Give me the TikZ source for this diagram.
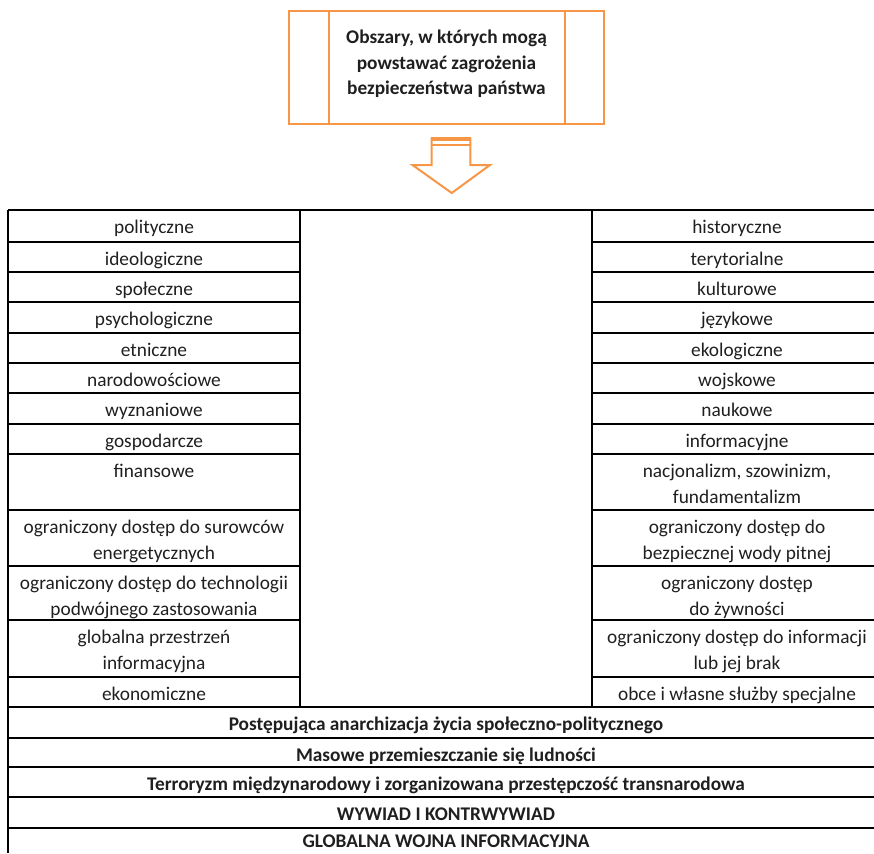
\documentclass[tikz,border=0pt]{standalone}
\usepackage{fontspec}
\setmainfont{Carlito}
\definecolor{org}{HTML}{F79646}
\definecolor{ink}{HTML}{1F1F1F}
\newcommand\cellfont{\fontsize{14.5pt}{19.5pt}\selectfont}
\newcommand\titlefont{\fontsize{14.5pt}{19.3pt}\selectfont\bfseries}
\begin{document}
\begin{tikzpicture}[x=0.75pt,y=-0.75pt,
  grid/.style={draw=black, line width=0.9pt},
  cell/.style={anchor=north, inner sep=0pt, align=center, text=ink, font=\cellfont, yshift=-1.1pt},
  bcell/.style={cell, font=\cellfont\bfseries},
  obox/.style={draw=org, line width=1.5pt}]
\useasboundingbox (0,0) rectangle (874,853);
% title box
\draw[obox] (289,11) rectangle (604,124);
\draw[obox] (329,11) -- (329,124);
\draw[obox] (565,11) -- (565,124);
\node[cell, font=\titlefont] (title) at (446.5,23.7)
  {\strut Obszary, w których mogą\\\strut powstawać zagrożenia\\\strut bezpieczeństwa państwa};
% block arrow
\fill[org] (431,137) rectangle (471,141.2);
\draw[org, line width=1.5pt] (431,144.5) -- (471,144.5);
\draw[org, line width=1.5pt, line join=miter] (431.7,137.5) -- (431.7,165) -- (412.5,165) -- (451.7,193) -- (490,165) -- (470.3,165) -- (470.3,137.5);
% table grid
\foreach \y in {210,707,738,767,797,828} \draw[grid] (8,\y) -- (874,\y);
\foreach \y in {242,272,302,333,363,393,424,454,510,566,620,677} {
  \draw[grid] (8,\y) -- (300,\y);
  \draw[grid] (592,\y) -- (874,\y);
}
\draw[grid] (8,210) -- (8,853);
\draw[grid] (300,210) -- (300,707);
\draw[grid] (592,210) -- (592,707);
% left column
\node[cell] (L1) at (154,213.8) {\strut polityczne};
\node[cell] (L2) at (154,245.8) {\strut ideologiczne};
\node[cell] (L3) at (154,275.8) {\strut społeczne};
\node[cell] (L4) at (154,305.8) {\strut psychologiczne};
\node[cell] (L5) at (154,336.8) {\strut etniczne};
\node[cell] (L6) at (154,366.8) {\strut narodowościowe};
\node[cell] (L7) at (154,396.8) {\strut wyznaniowe};
\node[cell] (L8) at (154,427.8) {\strut gospodarcze};
\node[cell] (L9) at (154,457.8) {\strut finansowe};
\node[cell] (L10) at (154,513.8) {\strut ograniczony dostęp do surowców\\\strut energetycznych};
\node[cell] (L11) at (154,569.8) {\strut ograniczony dostęp do technologii\\\strut podwójnego zastosowania};
\node[cell] (L12) at (154,623.8) {\strut globalna przestrzeń\\\strut informacyjna};
\node[cell] (L13) at (154,680.8) {\strut ekonomiczne};
% right column
\node[cell] (R1) at (737,213.8) {\strut historyczne};
\node[cell] (R2) at (737,245.8) {\strut terytorialne};
\node[cell] (R3) at (737,275.8) {\strut kulturowe};
\node[cell] (R4) at (737,305.8) {\strut językowe};
\node[cell] (R5) at (737,336.8) {\strut ekologiczne};
\node[cell] (R6) at (737,366.8) {\strut wojskowe};
\node[cell] (R7) at (737,396.8) {\strut naukowe};
\node[cell] (R8) at (737,427.8) {\strut informacyjne};
\node[cell] (R9) at (737,457.8) {\strut nacjonalizm, szowinizm,\\\strut fundamentalizm};
\node[cell] (R10) at (737,513.8) {\strut ograniczony dostęp do\\\strut bezpiecznej wody pitnej};
\node[cell] (R11) at (737,569.8) {\strut ograniczony dostęp\\\strut do żywności};
\node[cell] (R12) at (737,623.8) {\strut ograniczony dostęp do informacji\\\strut lub jej brak};
\node[cell] (R13) at (737,680.8) {\strut obce i własne służby specjalne};
% full-width rows
\node[bcell] (B1) at (446,710.8) {\strut Postępująca anarchizacja życia społeczno-politycznego};
\node[bcell] (B2) at (446,741.8) {\strut Masowe przemieszczanie się ludności};
\node[bcell] (B3) at (446,770.8) {\strut Terroryzm międzynarodowy i zorganizowana przestępczość transnarodowa};
\node[bcell] (B4) at (446,800.8) {\strut WYWIAD I KONTRWYWIAD};
\node[bcell, anchor=base] (B5) at (446,846) {GLOBALNA WOJNA INFORMACYJNA};
\end{tikzpicture}
\end{document}
